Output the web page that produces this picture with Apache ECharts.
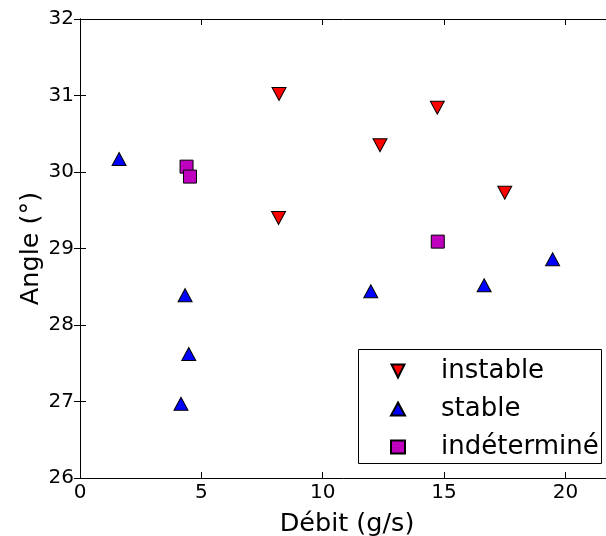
<!DOCTYPE html>
<html><head><meta charset="utf-8">
<script src="https://cdn.jsdelivr.net/npm/echarts@6/dist/echarts.min.js"></script>
<style>html,body{margin:0;padding:0;background:#fff;overflow:hidden}#c{width:606px;height:536px}</style>
</head><body><div id="c"></div>
<script>
var seriesNames = ['instable', 'stable', 'indéterminé'];
var instableData = [[8.2, 31.02], [12.36, 30.35], [14.72, 30.84], [17.5, 29.73], [8.18, 29.40]];
var stableData = [[1.61, 30.17], [4.33, 28.39], [4.48, 27.62], [4.16, 26.97], [11.98, 28.44], [16.65, 28.52], [19.47, 28.86]];
var indetData = [[4.39, 30.07], [4.53, 29.94], [14.74, 29.09]];
var xTicks = {min: 0, max: 22, interval: 5};
var yTicks = {min: 26, max: 32, interval: 1};

var FONT = 'DejaVu Sans';
var DOWN_TRI = 'path://M0,0L2,0L1,2Z';
var chart = echarts.init(document.getElementById('c'), null, {renderer: 'canvas'});
var axisCommon = {
  axisLine: {show: true, lineStyle: {color: '#000', width: 1}},
  axisTick: {show: true, inside: true, length: 6, lineStyle: {color: '#000'}},
  splitLine: {show: false}
};
chart.setOption({
  animation: false,
  textStyle: {fontFamily: FONT},
  grid: {left: 80, top: 19, width: 534, height: 459, containLabel: false, outerBoundsMode: 'none'},
  xAxis: [
    Object.assign({type: 'value', position: 'bottom', min: xTicks.min, max: xTicks.max, interval: xTicks.interval,
      name: 'Débit (g/s)', nameLocation: 'middle', nameGap: 33, nameMoveOverlap: false,
      nameTextStyle: {fontSize: 25.5, color: '#000', fontFamily: FONT},
      axisLabel: {fontSize: 20, color: '#000', margin: 5, fontFamily: FONT, showMaxLabel: false}}, axisCommon),
    Object.assign({type: 'value', position: 'top', min: xTicks.min, max: xTicks.max, interval: xTicks.interval,
      axisLabel: {show: false}}, axisCommon)
  ],
  yAxis: [
    Object.assign({type: 'value', position: 'left', min: yTicks.min, max: yTicks.max, interval: yTicks.interval,
      name: 'Angle (°)', nameLocation: 'middle', nameGap: 36, nameRotate: 90, nameMoveOverlap: false,
      nameTextStyle: {fontSize: 25.5, color: '#000', fontFamily: FONT},
      axisLabel: {fontSize: 20, color: '#000', margin: 6, fontFamily: FONT}}, axisCommon),
    Object.assign({type: 'value', position: 'right', min: yTicks.min, max: yTicks.max, interval: yTicks.interval,
      axisLabel: {show: false}}, axisCommon)
  ],
  legend: {
    orient: 'vertical', left: 385, top: 353, itemWidth: 14, itemHeight: 13, itemGap: 12, z: 10,
    textStyle: {fontSize: 26, color: '#000', fontFamily: FONT, lineHeight: 26, padding: [0, 0, 0, 31]},
    data: seriesNames
  },
  graphic: [{type: 'rect', shape: {x: 358.5, y: 349.5, width: 243, height: 114},
    style: {fill: '#fff', stroke: '#000', lineWidth: 1}, z: 3}],
  series: [
    {name: seriesNames[0], type: 'scatter', data: instableData, symbol: DOWN_TRI, symbolSize: [14, 13],
      itemStyle: {color: '#ff0000', borderColor: '#000', borderWidth: 1, opacity: 1}},
    {name: seriesNames[1], type: 'scatter', data: stableData, symbol: 'triangle', symbolSize: [14, 13],
      itemStyle: {color: '#0000ff', borderColor: '#000', borderWidth: 1, opacity: 1}},
    {name: seriesNames[2], type: 'scatter', data: indetData, symbol: 'rect', symbolSize: 13,
      itemStyle: {color: '#bf00bf', borderColor: '#000', borderWidth: 1, opacity: 1}}
  ]
});
</script></body></html>
